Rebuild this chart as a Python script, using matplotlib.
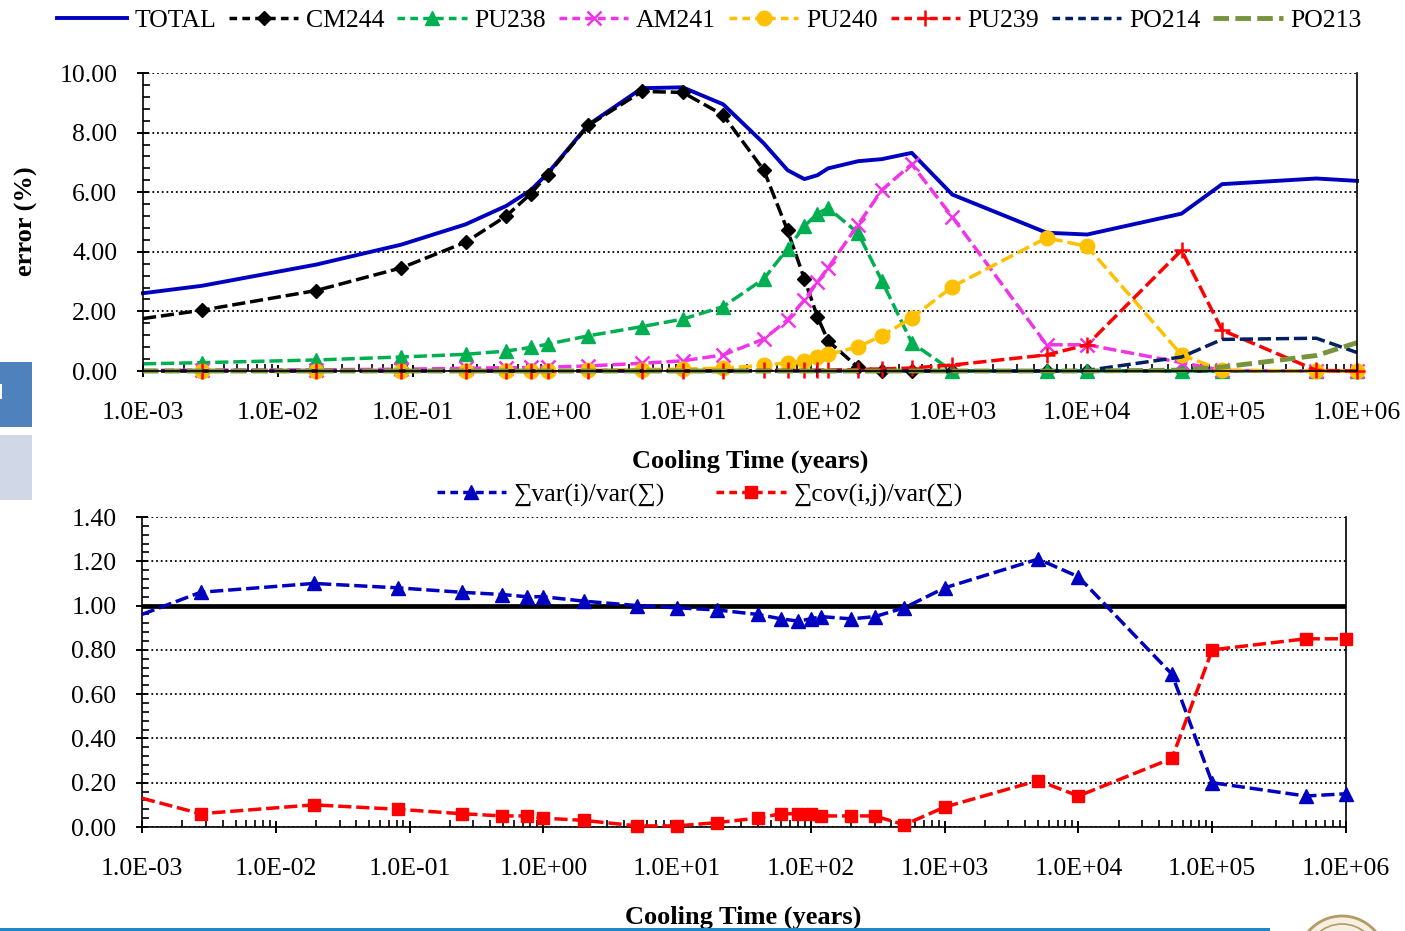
import numpy as np
import matplotlib
matplotlib.use("Agg")
import matplotlib.pyplot as plt
from matplotlib.ticker import (FixedLocator, LogLocator, NullFormatter,
                               FuncFormatter, FormatStrFormatter,
                               MultipleLocator, AutoMinorLocator)
from matplotlib.lines import Line2D
from matplotlib.patches import Rectangle, Ellipse

plt.rcParams["font.family"] = ["Liberation Serif", "DejaVu Serif"]

# ---------------------------------------------------------------- data
cooling_time = [1e-3, 2.74e-3, 1.92e-2, 8.21e-2, 0.246, 0.493, 0.75, 1, 2, 5,
                10, 20, 40, 60, 80, 100, 120, 200, 300, 500,
                1e3, 5e3, 1e4, 5e4, 1e5, 5e5, 1e6]

total = [2.61, 2.86, 3.57, 4.24, 4.92, 5.54, 6.07, 6.63, 8.26, 9.49,
         9.52, 8.95, 7.64, 6.74, 6.44, 6.57, 6.80, 7.04, 7.11, 7.32,
         5.92, 4.64, 4.58, 5.28, 6.27, 6.46, 6.38]
cm244 = [1.76, 2.04, 2.70, 3.46, 4.32, 5.20, 5.95, 6.59, 8.24, 9.38,
         9.35, 8.59, 6.74, 4.72, 3.09, 1.82, 1.01, 0.12, 0.0, 0.0,
         0.0, 0.0, 0.0, 0.0, 0.0, 0.0, 0.0]
pu238 = [0.24, 0.28, 0.37, 0.47, 0.56, 0.67, 0.79, 0.90, 1.18, 1.49,
         1.74, 2.16, 3.09, 4.10, 4.86, 5.28, 5.47, 4.63, 3.03, 0.95,
         0.0, 0.0, 0.0, 0.0, 0.0, 0.0, 0.0]
am241 = [0.02, 0.03, 0.04, 0.06, 0.09, 0.11, 0.12, 0.13, 0.17, 0.26,
         0.34, 0.54, 1.07, 1.71, 2.38, 2.98, 3.46, 4.91, 6.07, 6.94,
         5.17, 0.88, 0.88, 0.28, 0.02, 0.0, 0.0]
pu240 = [0.0, 0.0, 0.0, 0.0, 0.0, 0.01, 0.01, 0.01, 0.02, 0.05,
         0.06, 0.10, 0.19, 0.28, 0.34, 0.47, 0.56, 0.81, 1.18, 1.78,
         2.83, 4.47, 4.18, 0.54, 0.02, 0.0, 0.0]
pu239 = [0.0, 0.0, 0.0, 0.0, 0.0, 0.0, 0.0, 0.0, 0.01, 0.01,
         0.01, 0.01, 0.02, 0.02, 0.02, 0.03, 0.03, 0.05, 0.07, 0.10,
         0.20, 0.54, 0.88, 4.05, 1.37, 0.02, 0.0]
po214 = [0.0, 0.0, 0.0, 0.0, 0.0, 0.0, 0.0, 0.0, 0.0, 0.0,
         0.0, 0.0, 0.0, 0.0, 0.0, 0.0, 0.0, 0.0, 0.0, 0.0,
         0.0, 0.0, 0.02, 0.47, 1.06, 1.10, 0.62]
po213 = [0.0, 0.0, 0.0, 0.0, 0.0, 0.0, 0.0, 0.0, 0.0, 0.0,
         0.0, 0.0, 0.0, 0.0, 0.0, 0.0, 0.0, 0.0, 0.0, 0.0,
         0.0, 0.0, 0.0, 0.03, 0.13, 0.52, 0.95]

var_ratio = [0.96, 1.06, 1.10, 1.08, 1.06, 1.05, 1.04, 1.04, 1.02, 1.00,
             0.99, 0.98, 0.96, 0.94, 0.93, 0.94, 0.95, 0.94, 0.95, 0.99,
             1.08, 1.21, 1.13, 0.69, 0.20, 0.14, 0.15]
cov_ratio = [0.13, 0.06, 0.10, 0.08, 0.06, 0.05, 0.05, 0.04, 0.03, 0.005,
             0.005, 0.02, 0.04, 0.06, 0.06, 0.06, 0.05, 0.05, 0.05, 0.01,
             0.09, 0.21, 0.14, 0.31, 0.80, 0.85, 0.85]

decade_ticks = [1e-3, 1e-2, 1e-1, 1e0, 1e1, 1e2, 1e3, 1e4, 1e5, 1e6]

# ---------------------------------------------------------------- figure
W, H = 1405, 931
fig = plt.figure(figsize=(W / 100, H / 100), dpi=100)


def box(l, t, r, b):
    return [l / W, 1 - b / H, (r - l) / W, (b - t) / H]


ax1 = fig.add_axes(box(143, 73, 1357, 371))
ax2 = fig.add_axes(box(142, 517, 1346, 827))

FS = 18.5
LW = 2.5
DASH = (3.8, 1.4)
KEY_DASH = (2.2, 1.5)
MARK_FROM = slice(1, None)


def style_axes(ax):
    ax.set_xscale("log")
    ax.set_xlim(1e-3, 1e6)
    ax.xaxis.set_major_locator(FixedLocator(decade_ticks))
    ax.xaxis.set_major_formatter(FuncFormatter(lambda v, p: f"{v:.1E}"))
    ax.xaxis.set_minor_locator(LogLocator(base=10, subs=np.arange(2, 10)))
    ax.xaxis.set_minor_formatter(NullFormatter())
    ax.yaxis.set_major_formatter(FormatStrFormatter("%.2f"))
    ax.yaxis.set_minor_locator(AutoMinorLocator(5))
    ax.tick_params(which="major", direction="inout", length=9, width=1.4,
                   labelsize=FS, color="black")
    ax.tick_params(which="minor", direction="in", length=5, width=1.2)
    ax.tick_params(axis="x", which="major", pad=18)
    ax.tick_params(axis="y", which="major", pad=14)
    ax.grid(axis="y", which="major", color="black", linestyle=(0, (1, 1.6)),
            linewidth=1.3)
    ax.set_axisbelow(True)
    ax.spines["top"].set_visible(False)
    for s in ("left", "bottom", "right"):
        ax.spines[s].set_linewidth(1.2)
        ax.spines[s].set_color("black")


style_axes(ax1)
style_axes(ax2)

# ---------------------------------------------------------------- top panel
ax1.set_ylim(0, 10)
ax1.yaxis.set_major_locator(MultipleLocator(2))

top_series = [
    ("TOTAL", total, dict(color="#0000C0", lw=2.8, linestyle="-")),
    ("CM244", cm244, dict(color="black", lw=LW, dashes=DASH, marker="D",
                          ms=7.5)),
    ("PU238", pu238, dict(color="#00B050", lw=LW, dashes=DASH, marker="^",
                          ms=9.5)),
    ("AM241", am241, dict(color="#F035E6", lw=LW, dashes=DASH, marker="x",
                          ms=10, mew=1.8)),
    ("PU240", pu240, dict(color="#FFC000", lw=LW, dashes=DASH, marker="o",
                          ms=10.5)),
    ("PU239", pu239, dict(color="#FF0000", lw=LW, dashes=DASH, marker="+",
                          ms=11.5, mew=1.8)),
    ("PO214", po214, dict(color="#002060", lw=LW, dashes=DASH)),
    ("PO213", po213, dict(color="#77933C", lw=3.5, dashes=(3.2, 1.3))),
]

handles = []
for name, vals, kw in top_series:
    kw = dict(kw)
    if "marker" in kw:
        kw["markevery"] = MARK_FROM
        kw["markeredgecolor"] = kw["color"]
        kw["markerfacecolor"] = kw["color"]
    ax1.plot(cooling_time, vals, clip_on=False, **kw)
    hk = {k: v for k, v in kw.items() if k != "markevery"}
    if hk.get("dashes") == DASH:
        hk["dashes"] = KEY_DASH
    handles.append(Line2D([], [], **hk))

ax1.set_ylabel("error (%)", fontsize=19, fontweight="bold")
ax1.yaxis.set_label_coords(-0.0956, 0.503)
ax1.yaxis.label.set_va("center")
ax1.set_xlabel("Cooling Time (years)", fontsize=19, fontweight="bold")
ax1.xaxis.set_label_coords(0.5, -0.302)
ax1.xaxis.label.set_va("center")

fig.legend(handles, [s[0] for s in top_series], loc="center",
           bbox_to_anchor=(0.505, 1 - 21 / H), ncol=8, frameon=False,
           fontsize=FS, numpoints=1, handlelength=2.7, handletextpad=0.3,
           columnspacing=0.5, borderaxespad=0)

# ---------------------------------------------------------------- bottom panel
ax2.set_ylim(0, 1.4)
ax2.yaxis.set_major_locator(MultipleLocator(0.2))
ax2.axhline(1.0, color="black", lw=3.4, zorder=2)

ax2.plot(cooling_time, var_ratio, color="#0000C0", lw=LW, dashes=DASH,
         marker="^", ms=9.5, markevery=MARK_FROM, clip_on=False, zorder=3)
ax2.plot(cooling_time, cov_ratio, color="#FF0000", lw=LW, dashes=DASH,
         marker="s", ms=8.5, markevery=MARK_FROM, clip_on=False, zorder=3)

h_var = Line2D([], [], color="#0000C0", lw=LW, dashes=KEY_DASH, marker="^",
               ms=9.5)
h_cov = Line2D([], [], color="#FF0000", lw=LW, dashes=KEY_DASH, marker="s",
               ms=8.5)
fig.legend([h_var, h_cov], ["∑var(i)/var(∑)", "∑cov(i,j)/var(∑)"],
           loc="center", bbox_to_anchor=(0.498, 1 - 495 / H), ncol=2,
           frameon=False, fontsize=FS, numpoints=1, handlelength=2.7,
           handletextpad=0.3, columnspacing=2.0, borderaxespad=0)

ax2.set_xlabel("Cooling Time (years)", fontsize=19, fontweight="bold")
ax2.xaxis.set_label_coords(0.499, -0.290)
ax2.xaxis.label.set_va("center")

# ---------------------------------------------------------------- page trim
def px_rect(l, t, r, b, **kw):
    fig.patches.append(Rectangle((l / W, 1 - b / H), (r - l) / W, (b - t) / H,
                                 transform=fig.transFigure, figure=fig, **kw))


px_rect(0, 362, 32, 427, color="#4F81BD", lw=0)
px_rect(0, 384, 2, 399, color="white", lw=0)
px_rect(0, 435, 32, 500, color="#D0D8E8", lw=0)
px_rect(0, 928, 1270, 931, color="#1F86C8", lw=0)

for r, lw in ((44, 2.0), (36, 1.2)):
    fig.patches.append(Ellipse((1342 / W, 1 - 960 / H), 2 * r / W, 2 * r / H,
                               transform=fig.transFigure, figure=fig,
                               facecolor="#F6F0E2" if r == 44 else "none",
                               edgecolor="#B49A64", lw=lw))

fig.savefig("out.png", dpi=100)
